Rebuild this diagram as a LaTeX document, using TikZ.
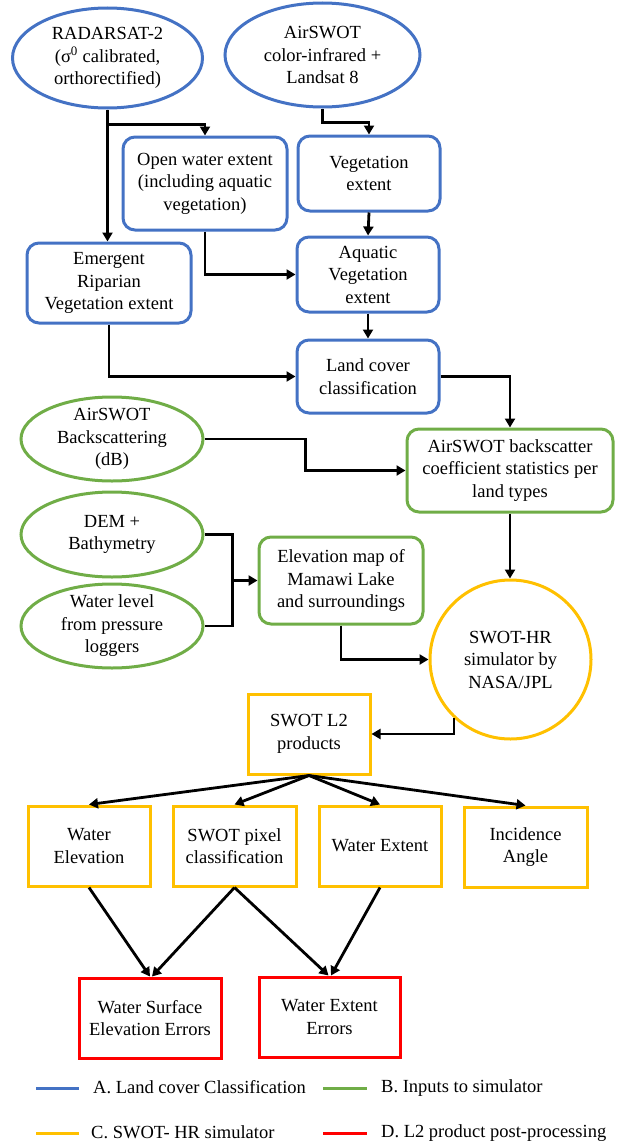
\documentclass[tikz,border=0pt]{standalone}
\usepackage{fontspec}
\setmainfont{Liberation Serif}
\usetikzlibrary{shapes.geometric,arrows.meta,calc}
\definecolor{cblue}{HTML}{4472C4}
\definecolor{cgreen}{HTML}{70AD47}
\definecolor{cyellow}{HTML}{FFC000}
\definecolor{cred}{HTML}{FF0000}
\begin{document}
\begin{tikzpicture}[x=1pt,y=-1pt,
  font=\fontsize{18.5}{22.5}\selectfont,
  ell/.style={ellipse, draw, line width=3pt, inner sep=-10pt, align=center},
  rbox/.style={rectangle, rounded corners=12pt, draw, line width=3pt, inner sep=0pt, align=center},
  sbox/.style={rectangle, draw, line width=3pt, inner sep=0pt, align=center},
  arr/.style={line width=2.8pt, -{Triangle[length=9pt,width=10pt]}},
  plain/.style={line width=2.8pt},
  leg/.style={line width=3pt},
  sz/.style 2 args={minimum width=#1pt, minimum height=#2pt}]
\useasboundingbox (0,0) rectangle (617,1143);

% A. land cover classification
\node[ell, draw=cblue, sz={190}{100}] (rad) at (107.5,58) {RADARSAT-2\\(σ\textsuperscript{0} calibrated,\\orthorectified)};
\node[ell, draw=cblue, sz={195}{104}] (cir) at (322.5,55) {AirSWOT\\color-infrared +\\Landsat 8};
\node[rbox, draw=cblue, sz={164}{93}] (open) at (205,183.5) {Open water extent\\(including aquatic\\vegetation)};
\node[rbox, draw=cblue, sz={142}{75}] (veg) at (369,173.5) {Vegetation\\extent};
\node[rbox, draw=cblue, sz={164}{80}] (emer) at (109,283) {Emergent\\Riparian\\Vegetation extent};
\node[rbox, draw=cblue, sz={142}{75}] (aqua) at (368,274.5) {Aquatic\\Vegetation\\extent};
\node[rbox, draw=cblue, sz={142}{73}] (land) at (368,376.5) {Land cover\\classification};

% B. inputs
\node[ell, draw=cgreen, sz={182}{84}] (back) at (112,439) {AirSWOT\\Backscattering\\(dB)};
\node[rbox, draw=cgreen, sz={206}{83}] (coef) at (510,470.5) {AirSWOT backscatter\\coefficient statistics per\\land types};
\node[ell, draw=cgreen, sz={182}{85}] (dem) at (112,534.5) {DEM +\\Bathymetry};
\node[ell, draw=cgreen, sz={182}{84}] (wl) at (112,626) {Water level\\from pressure\\loggers};
\node[rbox, draw=cgreen, sz={164}{87}] (elev) at (341,580.5) {Elevation map of\\Mamawi Lake\\and surroundings};

% C. simulator
\node[ell, draw=cyellow, sz={161}{159}] (swot) at (510.5,659.5) {SWOT-HR\\simulator by\\NASA/JPL};
\node[sbox, draw=cyellow, sz={122}{80}] (l2) at (309,734) {SWOT L2\\products};
\node[sbox, draw=cyellow, sz={122}{80}] (we) at (89,846) {Water\\Elevation};
\node[sbox, draw=cyellow, sz={123}{80}] (pix) at (234.5,846) {SWOT pixel\\classification};
\node[sbox, draw=cyellow, sz={122}{80}] (wext) at (380,846) {Water Extent};
\node[sbox, draw=cyellow, sz={123}{80}] (inc) at (525.5,847) {Incidence\\Angle};

% D. post-processing
\node[sbox, draw=cred, sz={142}{80}] (wse) at (150,1018) {Water Surface\\Elevation Errors};
\node[sbox, draw=cred, sz={141}{80}] (wee) at (329.5,1017) {Water Extent\\Errors};

% connectors
\draw[arr] (rad.south) -- (rad.south |- emer.north);
\coordinate (r1) at ($(rad.south)+(0,15)$);
\draw[arr] (r1) -| (open.north);
\draw[arr] (cir.south) -- ++(0,14) -| (veg.north);
\draw[arr] (veg.south) -- (aqua.north);
\draw[arr] (open.south) |- (aqua.west);
\draw[arr] (aqua.south) -- (land.north);
\draw[arr] (emer.south) |- (land.west);
\draw[arr] (land.east) -| (coef.north);
\draw[arr] (back.east) -- ++(101,0) |- (coef.west);
\draw[arr] (coef.south) -- (coef.south |- swot.north);
\draw[plain] (dem.east) -- ++(28,0) coordinate (j1) |- (wl.east);
\draw[arr] (j1 |- elev.west) -- (elev.west);
\draw[arr] (elev.south) |- (swot.west);
\draw[arr] (swot.-134) |- (l2.east);
\draw[arr] (l2.south) -- (we.north);
\draw[arr] (l2.south) -- (pix.north);
\draw[arr] (l2.south) -- (wext.north);
\draw[arr] (l2.south) -- (inc.north);
\draw[arr] (we.south) -- (wse.north);
\draw[arr] (pix.south) -- ([xshift=2pt]wse.north);
\draw[arr] (pix.south) -- ([xshift=-1pt]wee.north);
\draw[arr] (wext.south) -- ([xshift=1.5pt]wee.north);

% legend
\coordinate (la1) at (36,1088); \coordinate (la2) at (79,1088);
\coordinate (lb1) at (323,1088); \coordinate (lb2) at (367,1088);
\coordinate (lc1) at (36,1133); \coordinate (lc2) at (79,1133);
\coordinate (ld1) at (323,1133); \coordinate (ld2) at (367,1133);
\draw[leg, cblue] (la1) -- (la2);
\draw[leg, cgreen] (lb1) -- (lb2);
\draw[leg, cyellow] (lc1) -- (lc2);
\draw[leg, cred] (ld1) -- (ld2);
\node[anchor=west, inner sep=0pt] (lta) at (93,1087) {A. Land cover Classification};
\node[anchor=west, inner sep=0pt] (ltb) at (381,1088) {B. Inputs to simulator};
\node[anchor=west, inner sep=0pt] (ltc) at (91,1132) {C. SWOT- HR simulator};
\node[anchor=west, inner sep=0pt] (ltd) at (381,1133) {D. L2 product post-processing};
\end{tikzpicture}
\end{document}
